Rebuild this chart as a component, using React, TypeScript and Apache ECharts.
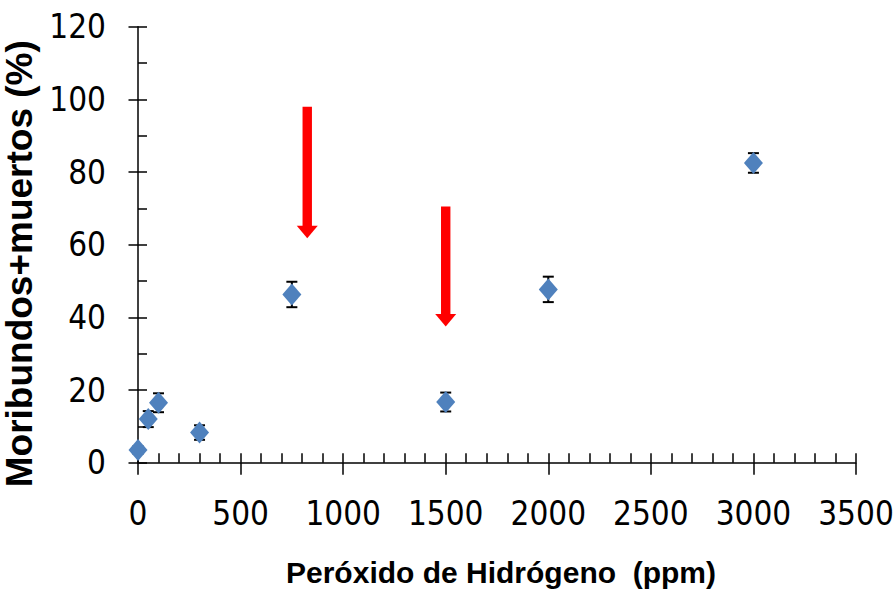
import React, { useEffect, useRef } from "react";
import * as echarts from "echarts";

const xValues = [0, 50, 100, 300, 750, 1500, 2000, 3000];
const yValues = [3.5, 12, 16.5, 8.3, 46.3, 16.7, 47.7, 82.5];
const errValues = [1, 2.2, 2.6, 2, 3.5, 2.6, 3.5, 2.7];
// arrows: [x, top value, tip value]
const arrowX = [825, 1500];
const arrowTop = [98, 70.5];
const arrowTip = [61.8, 37.5];

const xTitle = "Peróxido de Hidrógeno  (ppm)";
const yTitle = "Moribundos+muertos (%)";

const tickFont = "'Liberation Sans Narrow', 'DejaVu Sans Condensed', 'Liberation Sans', sans-serif";
const titleFont = "'Liberation Sans', Arial, sans-serif";

export default function App() {
  const ref = useRef<HTMLDivElement>(null);
  useEffect(() => {
    if (!ref.current) return;
    const chart = echarts.init(ref.current, undefined, { renderer: "svg" });
    const pts = xValues.map((x, i) => [x, yValues[i]]);
    const errs = xValues.map((x, i) => [x, yValues[i] - errValues[i], yValues[i] + errValues[i]]);
    const arrows = arrowX.map((x, i) => [x, arrowTop[i], arrowTip[i]]);
    const axisLine = { show: true, lineStyle: { color: "#000", width: 1.5 } };
    const fmt = (v: number) => String(v);
    chart.setOption({
      animation: false,
      backgroundColor: "#fff",
      grid: { left: 138, top: 26.7, right: 40, bottom: 136.3, containLabel: false, outerBoundsMode: "none" },
      xAxis: [
        {
          type: "value", min: 0, max: 3500, interval: 500,
          axisLine,
          axisTick: { show: true, inside: false, length: 12, lineStyle: { color: "#000", width: 1.5 } },
          minorTick: { show: false },
          splitLine: { show: false },
          axisLabel: { color: "#000", fontSize: 33, fontFamily: tickFont, margin: 34, formatter: fmt },
          name: xTitle, nameLocation: "middle", nameGap: 95,
          nameTextStyle: { color: "#000", fontSize: 30, fontWeight: "bold", fontFamily: titleFont, padding: [0, 0, 0, 8] },
        },
        {
          type: "value", min: 0, max: 3500, interval: 500, position: "bottom",
          axisLine: { show: false },
          axisTick: { show: true, inside: true, length: 9.5, lineStyle: { color: "#000", width: 1.5 } },
          minorTick: { show: true, splitNumber: 5, length: 9.5, lineStyle: { color: "#000", width: 1.5 } },
          splitLine: { show: false },
          axisLabel: { show: false },
        },
      ],
      yAxis: [
        {
          type: "value", min: 0, max: 120, interval: 20,
          axisLine,
          axisTick: { show: true, inside: false, length: 9.5, lineStyle: { color: "#000", width: 1.5 } },
          minorTick: { show: false },
          splitLine: { show: false },
          axisLabel: { color: "#000", fontSize: 33, fontFamily: tickFont, margin: 32, formatter: fmt },
          name: yTitle, nameLocation: "middle", nameGap: 89,
          nameTextStyle: { color: "#000", fontSize: 37, fontWeight: "bold", fontFamily: titleFont, padding: [0, 38, 0, 0] },
        },
        {
          type: "value", min: 0, max: 120, interval: 20, position: "left",
          axisLine: { show: false },
          axisTick: { show: true, inside: true, length: 9, lineStyle: { color: "#000", width: 1.5 } },
          minorTick: { show: true, splitNumber: 2, length: 9, lineStyle: { color: "#000", width: 1.5 } },
          splitLine: { show: false },
          axisLabel: { show: false },
        },
      ],
      series: [
        {
          type: "custom",
          xAxisIndex: 0, yAxisIndex: 0,
          z: 2,
          data: errs,
          renderItem: (params: any, api: any) => {
            const x = api.value(0);
            const lo = api.coord([x, api.value(1)]);
            const hi = api.coord([x, api.value(2)]);
            const w = 5.5;
            const st = { stroke: "#000", lineWidth: 2 };
            return {
              type: "group",
              children: [
                { type: "line", shape: { x1: lo[0], y1: lo[1], x2: hi[0], y2: hi[1] }, style: st },
                { type: "line", shape: { x1: lo[0] - w, y1: lo[1], x2: lo[0] + w, y2: lo[1] }, style: st },
                { type: "line", shape: { x1: hi[0] - w, y1: hi[1], x2: hi[0] + w, y2: hi[1] }, style: st },
              ],
            };
          },
        },
        {
          type: "scatter",
          xAxisIndex: 0, yAxisIndex: 0,
          z: 3,
          symbol: "diamond",
          symbolSize: [19, 22],
          itemStyle: { color: "#4F81BD", opacity: 1 },
          data: pts,
        },
        {
          type: "custom",
          xAxisIndex: 0, yAxisIndex: 0,
          z: 4,
          data: arrows,
          renderItem: (params: any, api: any) => {
            const x = api.value(0);
            const top = api.coord([x, api.value(1)]);
            const tip = api.coord([x, api.value(2)]);
            const shaftW = 9.4, headW = 21, headLen = 12.5;
            const headStart = tip[1] - headLen;
            return {
              type: "group",
              children: [
                { type: "rect", shape: { x: top[0] - shaftW / 2, y: top[1], width: shaftW, height: headStart - top[1] + 0.5 }, style: { fill: "#FF0000" } },
                { type: "polygon", shape: { points: [[tip[0] - headW / 2, headStart], [tip[0] + headW / 2, headStart], [tip[0], tip[1]]] }, style: { fill: "#FF0000" } },
              ],
            };
          },
        },
      ],
    });
    return () => chart.dispose();
  }, []);
  return <div ref={ref} style={{ width: 896, height: 599, position: "absolute", left: 0, top: 0 }} />;
}
